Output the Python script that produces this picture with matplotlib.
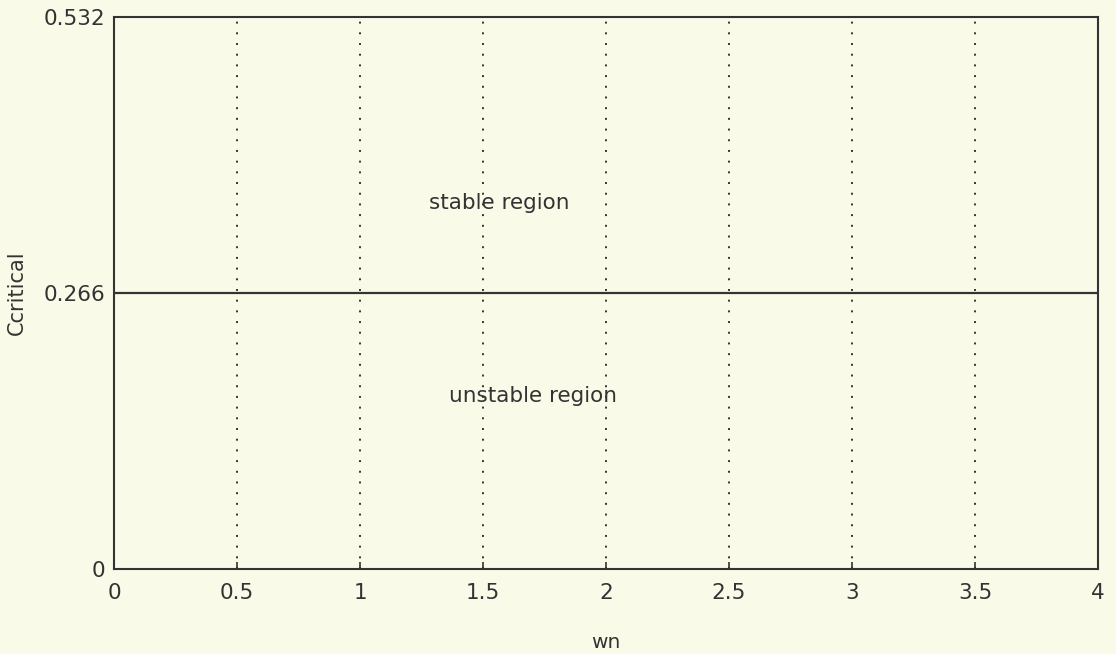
import matplotlib
matplotlib.use("Agg")
import matplotlib.pyplot as plt

# data
wn = [0, 4]
c_crit = [0.266, 0.266]
xticks = [0, 0.5, 1, 1.5, 2, 2.5, 3, 3.5, 4]
xticklabels = ["0", "0.5", "1", "1.5", "2", "2.5", "3", "3.5", "4"]
yticks = [0, 0.266, 0.532]
yticklabels = ["0", "0.266", "0.532"]
grid_x = [0.5, 1, 1.5, 2, 2.5, 3, 3.5]

bg = "#fafae8"
ink = "#333333"
plt.rcParams['font.family'] = ['DejaVu Sans']

fig = plt.figure(figsize=(11.16, 6.54), dpi=100, facecolor=bg)
ax = fig.add_axes([114/1116, 85/654, 984/1116, 552/654], facecolor=bg)

for gx in grid_x:
    ax.axvline(gx, color=ink, lw=1.4, ls=(0, (1, 4.5)))#网格
ax.plot(wn, c_crit, color=ink, lw=1.6)

ax.text(1.28, 0.3527, "stable region", fontsize=15.5, color=ink, va="center", ha="left")
ax.text(1.36, 0.1667, "unstable region", fontsize=15.5, color=ink, va="center", ha="left")

ax.set_xlim(0, 4)
ax.set_ylim(0, 0.532)
ax.set_xticks(xticks)
ax.set_xticklabels(xticklabels)
ax.set_yticks(yticks)
ax.set_yticklabels(yticklabels)
ax.tick_params(direction="in", length=5, colors=ink, labelsize=15.5, width=1.2)
ax.tick_params(axis="x", pad=10)
ax.tick_params(axis="y", pad=6.5)
for s in ax.spines.values():
    s.set_color(ink)
    s.set_linewidth(1.5)

ax.set_xlabel("wn", fontsize=14.5, color=ink, va="center")
ax.xaxis.set_label_coords(0.5, (569 - 643) / 552)
ax.set_ylabel("Ccritical", fontsize=15, color=ink, va="center")
ax.yaxis.set_label_coords((17 - 114) / 984, 0.5)

plt.savefig("out.png", facecolor=bg)
